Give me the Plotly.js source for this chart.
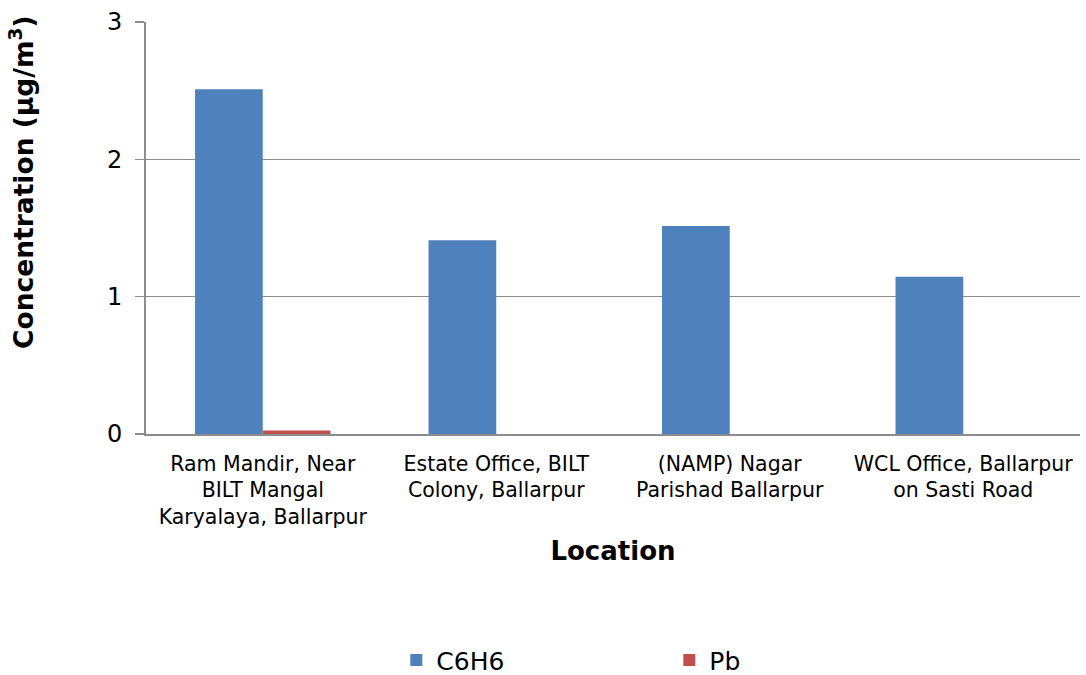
<!DOCTYPE html>
<html>
<head>
<meta charset="utf-8">
<script src="https://cdn.plot.ly/plotly-3.0.1.min.js"></script>
<style>
  html, body { margin: 0; padding: 0; background: #fff; }
  #chart { width: 1086px; height: 675px; }
</style>
</head>
<body>
<div id="chart"></div>
<script>
// Monitoring locations (category labels, line-broken as shown under the axis)
const locations = [
  "Ram Mandir, Near<br>BILT Mangal<br>Karyalaya, Ballarpur",
  "Estate Office, BILT<br>Colony, Ballarpur",
  "(NAMP) Nagar<br>Parishad Ballarpur",
  "WCL Office, Ballarpur<br>on Sasti Road"
];

// Measured concentrations (µg/m³)
const c6h6 = [2.51, 1.41, 1.515, 1.145];
const pb = [0.025, 0, 0, 0];

const yTicks = [0, 1, 2, 3];

const yTitle = "<b>Concentration (µg/m<sup>3</sup>)</b>";
const xTitle = "<b>Location</b>";

const font = "Verdana, 'DejaVu Sans', sans-serif";

const traces = [
  {
    type: "bar", name: "C6H6", x: locations, y: c6h6,
    marker: { color: "#4f81bd" }
  },
  {
    type: "bar", name: "Pb", x: locations, y: pb,
    marker: { color: "#c0504d" }
  }
];

const layout = {
  width: 1086, height: 675,
  paper_bgcolor: "#fff", plot_bgcolor: "#fff",
  font: { family: font, color: "#000" },
  margin: { l: 146, r: 6, t: 22, b: 241 },
  barmode: "group", bargap: 0.42, bargroupgap: 0,
  showlegend: true,
  legend: {
    orientation: "h", xref: "paper", x: 0.268, xanchor: "left",
    yref: "container", y: 0.022, yanchor: "middle",
    font: { size: 25, family: font }, entrywidth: 228, itemwidth: 30,
    traceorder: "normal"
  },
  xaxis: {
    type: "category", automargin: false,
    showline: true, linecolor: "#8c8c8c", linewidth: 2,
    ticks: "", tickfont: { size: 20.5, family: font }, ticklabelstandoff: 10,
    title: { text: xTitle, font: { size: 26, family: font }, standoff: 14 }
  },
  yaxis: {
    range: [0, 3], tickvals: yTicks, ticktext: yTicks.map(String),
    automargin: false,
    showline: true, linecolor: "#8c8c8c", linewidth: 2,
    ticks: "outside", ticklen: 9, tickcolor: "#8c8c8c", tickwidth: 1.5,
    showgrid: true, gridcolor: "#8c8c8c", gridwidth: 1.5,
    zeroline: false,
    tickfont: { size: 24, family: font }, ticklabelstandoff: 8
  },
  annotations: [
    {
      text: yTitle, textangle: -90, showarrow: false,
      xref: "paper", yref: "paper", x: -0.1326, y: 0.612,
      xanchor: "center", yanchor: "middle",
      font: { size: 26.5, family: font, color: "#000" }
    }
  ]
};

Plotly.newPlot("chart", traces, layout, { displayModeBar: false, staticPlot: true });
</script>
</body>
</html>
